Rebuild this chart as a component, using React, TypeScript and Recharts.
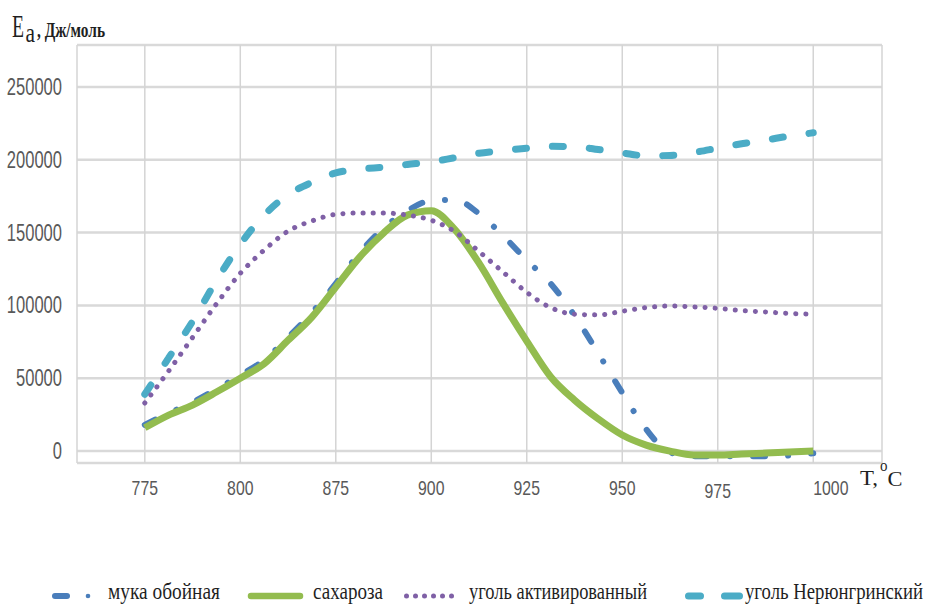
import React from 'react';
import { LineChart, Line, XAxis, YAxis, CartesianGrid } from 'recharts';

// x position index: 0..7 correspond to the category ticks below
const positions = [0, 0.25, 0.5, 0.75, 1, 1.25, 1.5, 1.75, 2, 2.25, 2.5, 2.75, 3, 3.25, 3.5, 3.75, 4, 4.25, 4.5, 4.75, 5, 5.25, 5.5, 5.75, 6, 6.25, 6.5, 6.75, 7];
const xTickValues = [0, 1, 2, 3, 4, 5, 6, 7];
const xTickLabels = ['775', '800', '875', '900', '925', '950', '975', '1000'];
const yTicks = [0, 50000, 100000, 150000, 200000, 250000];

const mukaObojnaya = [18000, 26000, 33500, 42500, 52000, 62500, 78000, 95000, 115000, 136000, 153000, 165000, 172000, 172500, 163000, 148000, 131000, 115000, 93000, 67000, 40000, 15000, -1000, -3500, -3500, -3500, -3500, -3000, -1500];
const sakharoza = [16000, 24700, 31600, 40500, 50000, 60000, 76000, 92000, 112600, 133200, 149700, 162000, 165000, 151800, 129000, 101600, 75500, 51000, 35000, 22000, 11000, 4100, 0, -2700, -2700, -2000, -1400, -700, 0];
const ugolAktivirovannyj = [33000, 55000, 78000, 101000, 122000, 138000, 151000, 158000, 162500, 163500, 163500, 162000, 158500, 150500, 137000, 123000, 109000, 98500, 94000, 93500, 96000, 98500, 99600, 99000, 98000, 96500, 95500, 94500, 94000];
const ugolNeryungrinskij = [39000, 64000, 89000, 117000, 142000, 162000, 176000, 184500, 191000, 193500, 195000, 196800, 198500, 201500, 204500, 206300, 208000, 209200, 209000, 207000, 204700, 202700, 203000, 205000, 208000, 211000, 213500, 216300, 218500];

const seriesNames = ['мука обойная', 'сахароза', 'уголь активированный', 'уголь Нерюнгринский'];
const colors = { muka: '#4A7EBB', sakh: '#93BC4F', akt: '#7F60A6', ner: '#4BACC6' };

const data = positions.map((p, i) => ({
  x: p,
  muka: mukaObojnaya[i],
  sakh: sakharoza[i],
  akt: ugolAktivirovannyj[i],
  ner: ugolNeryungrinskij[i],
}));

const SANS = "'Liberation Sans', Arial, sans-serif";
const SERIF = "'Liberation Serif', 'Times New Roman', serif";

const YTick = (props: any) => {
  const { x, y, payload } = props;
  const s = String(payload.value);
  return (
    <text x={x} y={y} textAnchor="end" dominantBaseline="central" fontSize={23} fontFamily={SANS} fill="#595959"
      textLength={s.length * 9.2} lengthAdjust="spacingAndGlyphs">{s}</text>
  );
};

const XTick = (props: any) => {
  const { x, y, payload } = props;
  const label = xTickLabels[Math.round(payload.value)] ?? '';
  const last = Math.round(payload.value) === xTickLabels.length - 1;
  const dy = label === '975' ? 3 : 0;
  return (
    <text x={x} y={y + 24 + dy} textAnchor={last ? 'start' : 'middle'} dominantBaseline="central" fontSize={21}
      fontFamily={SANS} fill="#595959" textLength={label.length * 8.8} lengthAdjust="spacingAndGlyphs">{label}</text>
  );
};

export default function App() {
  return (
    <div style={{ position: 'absolute', left: 0, top: 0, width: 931, height: 606, background: '#fff', overflow: 'hidden' }}>
      <LineChart width={931} height={606} data={data} margin={{ top: 45, right: 49, bottom: 113, left: 7 }}>
        <CartesianGrid vertical={false} stroke="#D9D9D9" strokeWidth={2.5} />
        <CartesianGrid horizontal={false} stroke="#D4D4D4" strokeWidth={1.5} />
        <XAxis type="number" dataKey="x" domain={[-0.71, 7.72]} ticks={xTickValues} interval={0} allowDataOverflow
          axisLine={false} tickLine={false} tickSize={0} tickMargin={0} height={30} tick={<XTick />} />
        <YAxis type="number" domain={[-8200, 278800]} ticks={yTicks} interval={0} allowDataOverflow
          axisLine={false} tickLine={false} tickSize={0} tickMargin={15} width={70} tick={<YTick />} />
        <Line name={seriesNames[3]} dataKey="ner" type="monotone" stroke={colors.ner} strokeWidth={7}
          strokeDasharray="11 26" strokeLinecap="round" dot={false} activeDot={false} isAnimationActive={false} />
        <Line name={seriesNames[0]} dataKey="muka" type="monotone" stroke={colors.muka} strokeWidth={6}
          strokeDasharray="12 23 0.1 23" strokeLinecap="round" dot={false} activeDot={false} isAnimationActive={false} />
        <Line name={seriesNames[1]} dataKey="sakh" type="monotone" stroke={colors.sakh} strokeWidth={7}
          dot={false} activeDot={false} isAnimationActive={false} />
        <Line name={seriesNames[2]} dataKey="akt" type="monotone" stroke={colors.akt} strokeWidth={5}
          strokeDasharray="0.1 10" strokeLinecap="round" dot={false} activeDot={false} isAnimationActive={false} />
      </LineChart>
      <svg width={931} height={606} style={{ position: 'absolute', left: 0, top: 0, pointerEvents: 'none' }}>
        {/* axis titles */}
        <text x={12} y={37} fontFamily={SERIF} fill="#1f1f1f">
          <tspan fontSize={32} textLength={12} lengthAdjust="spacingAndGlyphs">E</tspan>
          <tspan x={25.5} dy={5} fontSize={28} textLength={9.5} lengthAdjust="spacingAndGlyphs">a</tspan>
          <tspan x={37} dy={-5} fontSize={20} fontWeight="bold" textLength={68} lengthAdjust="spacingAndGlyphs">, Дж/моль</tspan>
        </text>
        <text x={860} y={485} fontFamily={SERIF} fill="#1f1f1f">
          <tspan fontSize={22} textLength={18} lengthAdjust="spacingAndGlyphs">T,</tspan>
          <tspan x={880} dy={-14} fontSize={16} textLength={7.5} lengthAdjust="spacingAndGlyphs">o</tspan>
          <tspan x={887.5} dy={15} fontSize={22} textLength={15} lengthAdjust="spacingAndGlyphs">C</tspan>
        </text>
        {/* legend */}
        <g>
          <line x1={55} y1={596} x2={67} y2={596} stroke={colors.muka} strokeWidth={6} strokeLinecap="round" />
          <circle cx={88} cy={596} r={2.3} fill={colors.muka} />
          <text x={108} y={599} fontFamily={SERIF} fontSize={23} fill="#1f1f1f" textLength={112} lengthAdjust="spacingAndGlyphs">{seriesNames[0]}</text>
          <line x1={251} y1={596} x2={300} y2={596} stroke={colors.sakh} strokeWidth={6.5} strokeLinecap="round" />
          <text x={313} y={599} fontFamily={SERIF} fontSize={23} fill="#1f1f1f" textLength={70} lengthAdjust="spacingAndGlyphs">{seriesNames[1]}</text>
          {[0, 1, 2, 3, 4, 5].map((i) => (
            <circle key={i} cx={406.5 + i * 9} cy={596} r={2.5} fill={colors.akt} />
          ))}
          <text x={469} y={599} fontFamily={SERIF} fontSize={23} fill="#1f1f1f" textLength={178} lengthAdjust="spacingAndGlyphs">{seriesNames[2]}</text>
          <line x1={688.5} y1={596} x2={700.5} y2={596} stroke={colors.ner} strokeWidth={7} strokeLinecap="round" />
          <line x1={724.5} y1={596} x2={739.5} y2={596} stroke={colors.ner} strokeWidth={7} strokeLinecap="round" />
          <text x={745} y={599} fontFamily={SERIF} fontSize={23} fill="#1f1f1f" textLength={178} lengthAdjust="spacingAndGlyphs">{seriesNames[3]}</text>
        </g>
      </svg>
    </div>
  );
}
